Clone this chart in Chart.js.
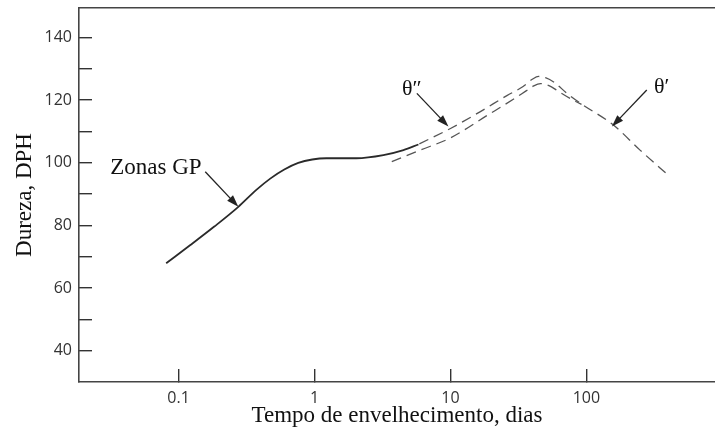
<!DOCTYPE html>
<html><head><meta charset="utf-8">
<script src="https://cdn.jsdelivr.net/npm/chart.js@4.4.1/dist/chart.umd.min.js"></script>
<style>html,body{margin:0;padding:0;background:#fff}</style>
</head><body>
<canvas id="c" width="715" height="432"></canvas>
<script>
// ---- data ----
const gpTime      = [0.081, 0.122, 0.183, 0.275, 0.373, 0.472, 0.599, 0.759, 0.962, 1.22, 2.03, 3.21, 4.51, 5.81];
const gpHardness  = [67.9, 73.7, 79.6, 85.9, 91.3, 94.9, 97.8, 99.9, 101.0, 101.4, 101.4, 102.4, 104.0, 105.8];

const upperTime     = [5.9, 10, 16.6, 26, 34, 40, 44.5, 50, 58, 72, 90, 158, 248, 412];
const upperHardness = [106.0, 110.9, 116.3, 121.4, 124.2, 126.6, 127.5, 127.1, 125.6, 122.1, 119.0, 112.0, 104.0, 95.5];

const lowerTime     = [3.7, 6.0, 10, 18.5, 29.2, 36, 41, 46, 53, 62, 78, 92];
const lowerHardness = [100.3, 104.0, 107.9, 115.0, 120.3, 122.9, 124.5, 125.2, 124.6, 122.8, 120.2, 118.6];

const xTickValues = [0.1, 1, 10, 100];
const yTickValues = [40, 50, 60, 70, 80, 90, 100, 110, 120, 130, 140];
const yLabelValues = [40, 60, 80, 100, 120, 140];

const xTitle = 'Tempo de envelhecimento, dias';
const yTitle = 'Dureza, DPH';

// annotation labels and arrows, in data coordinates
const noteText   = ['Zonas GP', 'θ″', 'θ′'];
const noteX      = [0.068, 5.2, 358];
const noteY      = [98.4, 123.5, 124.1];
const arrowFromX = [0.157, 5.66, 278];
const arrowFromY = [97.1, 122.1, 123.2];
const arrowToX   = [0.275, 9.66, 154];
const arrowToY   = [85.9, 111.5, 111.5];

const toPts = (xs, ys) => xs.map((x, i) => ({x, y: ys[i]}));

const annotPlugin = {
  id: 'annot',
  afterDatasetsDraw(chart) {
    const {ctx, scales: {x, y}} = chart;
    ctx.save();
    noteText.forEach((t, i) => {
      ctx.fillStyle = '#111';
      ctx.textAlign = 'center';
      ctx.textBaseline = 'middle';
      ctx.font = (i === 0 ? '23px' : '22px') + ' "Liberation Serif", "Times New Roman", serif';
      ctx.fillText(t, x.getPixelForValue(noteX[i]), y.getPixelForValue(noteY[i]));
      const x0 = x.getPixelForValue(arrowFromX[i]), y0 = y.getPixelForValue(arrowFromY[i]);
      const x1 = x.getPixelForValue(arrowToX[i]), y1 = y.getPixelForValue(arrowToY[i]);
      const ang = Math.atan2(y1 - y0, x1 - x0);
      const L = 12, W = 4;
      ctx.strokeStyle = '#222';
      ctx.lineWidth = 1.3;
      ctx.beginPath();
      ctx.moveTo(x0, y0);
      ctx.lineTo(x1 - Math.cos(ang) * L * 0.8, y1 - Math.sin(ang) * L * 0.8);
      ctx.stroke();
      ctx.fillStyle = '#222';
      ctx.beginPath();
      ctx.moveTo(x1, y1);
      ctx.lineTo(x1 - Math.cos(ang) * L - Math.sin(ang) * W, y1 - Math.sin(ang) * L + Math.cos(ang) * W);
      ctx.lineTo(x1 - Math.cos(ang) * L + Math.sin(ang) * W, y1 - Math.sin(ang) * L - Math.cos(ang) * W);
      ctx.closePath();
      ctx.fill();
    });
    ctx.restore();
  }
};

const tickFont = {family: '"Open Sans", "Liberation Sans", sans-serif', size: 16};
const titleFont = {family: '"Liberation Serif", "Times New Roman", serif', size: 23};

new Chart(document.getElementById('c'), {
  type: 'line',
  data: {
    datasets: [
      {label: 'GP', data: toPts(gpTime, gpHardness), borderColor: '#2a2a2a', borderWidth: 1.8,
       pointRadius: 0, cubicInterpolationMode: 'monotone', fill: false},
      {label: 'upper', data: toPts(upperTime, upperHardness), borderColor: '#555', borderWidth: 1.3,
       borderDash: [10, 6], pointRadius: 0, cubicInterpolationMode: 'monotone', fill: false},
      {label: 'lower', data: toPts(lowerTime, lowerHardness), borderColor: '#555', borderWidth: 1.3,
       borderDash: [10, 6], pointRadius: 0, cubicInterpolationMode: 'monotone', fill: false}
    ]
  },
  options: {
    responsive: false,
    animation: false,
    layout: {padding: 0},
    plugins: {legend: {display: false}, tooltip: {enabled: false}},
    scales: {
      x: {
        type: 'logarithmic', position: 'bottom', min: 0.0185, max: 883,
        afterBuildTicks: s => { s.ticks = xTickValues.map(v => ({value: v})); },
        afterFit: s => { s.height = 50; s.paddingLeft = 0; s.paddingRight = 0; },
        ticks: {callback: v => String(v), font: tickFont, color: '#333', padding: 20,
                maxRotation: 0, autoSkip: false},
        grid: {display: true, drawOnChartArea: false, drawTicks: true, tickLength: -13,
               color: '#333', lineWidth: 1.4},
        border: {display: true, color: '#444', width: 1.6},
        title: {display: true, text: xTitle, font: titleFont, color: '#111', padding: {top: 0, bottom: 2}}
      },
      xTop: {
        type: 'linear', position: 'top', min: 0, max: 1,
        afterFit: s => { s.height = 8; s.paddingLeft = 0; s.paddingRight = 0; },
        ticks: {display: false},
        grid: {display: false, drawTicks: false},
        border: {display: true, color: '#444', width: 1.6}
      },
      y: {
        type: 'linear', position: 'left', min: 30, max: 149.35,
        afterBuildTicks: s => { s.ticks = yTickValues.map(v => ({value: v})); },
        afterFit: s => { s.width = 79; s.paddingTop = 0; s.paddingBottom = 0; },
        ticks: {callback: v => yLabelValues.includes(v) ? String(v) : '', font: tickFont,
                color: '#333', padding: 20, autoSkip: false},
        grid: {display: true, drawOnChartArea: false, drawTicks: true, tickLength: -13,
               color: '#333', lineWidth: 1.4},
        border: {display: true, color: '#444', width: 1.6},
        title: {display: true, text: yTitle, font: titleFont, color: '#111', padding: {top: 11, bottom: 0}}
      }
    }
  },
  plugins: [annotPlugin]
});
</script>
</body></html>
